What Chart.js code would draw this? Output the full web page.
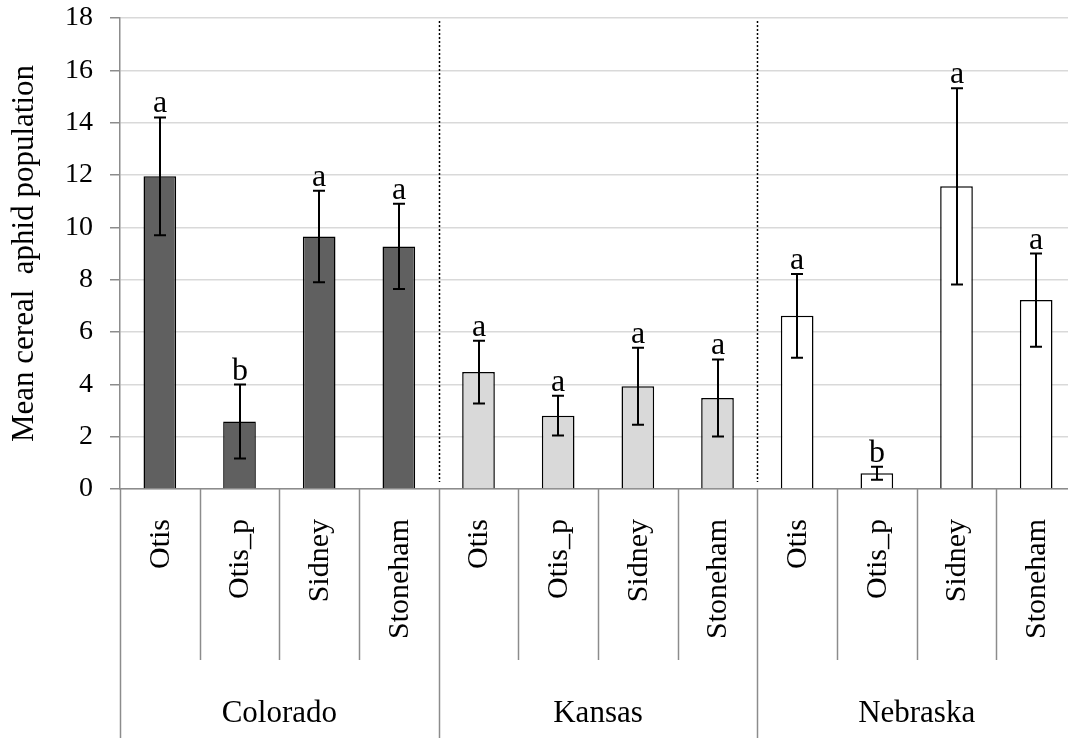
<!DOCTYPE html>
<html>
<head>
<meta charset="utf-8">
<script src="https://cdn.jsdelivr.net/npm/chart.js@4/dist/chart.umd.min.js"></script>
<style>
  html, body { margin: 0; padding: 0; background: #fff; overflow: hidden; }
  #wrap { width: 1080px; height: 738px; position: relative; }
</style>
</head>
<body>
<div id="wrap"><canvas id="grafico"></canvas></div>
<script>
// datos
var groups = ['Colorado', 'Kansas', 'Nebraska'];
var sites = ['Otis', 'Otis_p', 'Sidney', 'Stoneham'];

var coloradoMeans = [11.95, 2.58, 9.65, 9.27];
var coloradoErr = [2.25, 1.41, 1.75, 1.63];
var kansasMeans = [4.47, 2.80, 3.93, 3.48];
var kansasErr = [1.2, 0.76, 1.47, 1.47];
var nebraskaMeans = [6.62, 0.60, 11.57, 7.22];
var nebraskaErr = [1.6, 0.25, 3.75, 1.78];

var coloradoLetters = ['a', 'b', 'a', 'a'];
var kansasLetters = ['a', 'a', 'a', 'a'];
var nebraskaLetters = ['a', 'b', 'a', 'a'];

var yTicks = [0, 2, 4, 6, 8, 10, 12, 14, 16, 18];

var groupColors = ['#606060', '#d9d9d9', '#ffffff'];

var labels = [];
var means = [];
var errs = [];
var letters = [];
var colors = [];
var allMeans = [coloradoMeans, kansasMeans, nebraskaMeans];
var allErr = [coloradoErr, kansasErr, nebraskaErr];
var allLetters = [coloradoLetters, kansasLetters, nebraskaLetters];
for (var g = 0; g < groups.length; g++) {
  for (var s = 0; s < sites.length; s++) {
    labels.push(sites[s]);
    means.push(allMeans[g][s]);
    errs.push(allErr[g][s]);
    letters.push(allLetters[g][s]);
    colors.push(groupColors[g]);
  }
}

var serif = "'Liberation Serif', 'Times New Roman', serif";
var axisGray = '#8c8c8c';

var extrasPlugin = {
  id: 'extras',
  afterDatasetsDraw: function(chart) {
    var ctx = chart.ctx;
    var x = chart.scales.x;
    var y = chart.scales.y;
    var area = chart.chartArea;
    var step = x.getPixelForValue(1) - x.getPixelForValue(0);
    ctx.save();

    // separadores punteados entre estados
    ctx.strokeStyle = '#000';
    ctx.lineWidth = 1.5;
    ctx.setLineDash([2, 2]);
    for (var g = 1; g < groups.length; g++) {
      var sx = Math.round(x.getPixelForValue(g * sites.length) - step / 2) + 0.5;
      ctx.beginPath();
      ctx.moveTo(sx, area.top + 3);
      ctx.lineTo(sx, area.bottom - 7);
      ctx.stroke();
    }
    ctx.setLineDash([]);

    // barras de error y letras
    ctx.lineWidth = 2;
    ctx.font = '32px ' + serif;
    ctx.textAlign = 'center';
    ctx.textBaseline = 'alphabetic';
    ctx.fillStyle = '#000';
    for (var i = 0; i < means.length; i++) {
      var cx = Math.round(x.getPixelForValue(i));
      var top = y.getPixelForValue(means[i] + errs[i]);
      var bot = y.getPixelForValue(means[i] - errs[i]);
      ctx.beginPath();
      ctx.moveTo(cx, top);
      ctx.lineTo(cx, bot);
      ctx.moveTo(cx - 6, top);
      ctx.lineTo(cx + 6, top);
      ctx.moveTo(cx - 6, bot);
      ctx.lineTo(cx + 6, bot);
      ctx.stroke();
      ctx.fillText(letters[i], cx, top - 5);
    }

    // eje de categorias en dos niveles
    var base = area.bottom;
    ctx.strokeStyle = axisGray;
    ctx.lineWidth = 1.5;
    for (var k = 0; k <= labels.length; k++) {
      var lx = Math.round(x.getPixelForValue(k) - step / 2) + 0.5;
      var end = (k % sites.length === 0) ? chart.height : base + 171;
      ctx.beginPath();
      ctx.moveTo(lx, base);
      ctx.lineTo(lx, end);
      ctx.stroke();
    }

    ctx.fillStyle = '#000';
    ctx.font = '30px ' + serif;
    ctx.textAlign = 'right';
    ctx.textBaseline = 'middle';
    for (var j = 0; j < labels.length; j++) {
      ctx.save();
      ctx.translate(x.getPixelForValue(j) + 1, base + 30);
      ctx.rotate(-Math.PI / 2);
      ctx.fillText(labels[j], 0, 0);
      ctx.restore();
    }

    ctx.font = '31px ' + serif;
    ctx.textAlign = 'center';
    ctx.textBaseline = 'alphabetic';
    for (var h = 0; h < groups.length; h++) {
      var first = x.getPixelForValue(h * sites.length) - step / 2;
      var last = x.getPixelForValue((h + 1) * sites.length - 1) + step / 2;
      ctx.fillText(groups[h], (first + last) / 2, base + 233);
    }
    ctx.restore();
  }
};

new Chart(document.getElementById('grafico'), {
  type: 'bar',
  data: {
    labels: labels,
    datasets: [{
      label: 'Mean',
      data: means,
      backgroundColor: colors,
      borderColor: '#000',
      borderWidth: 1.5,
      barPercentage: 0.41,
      categoryPercentage: 1
    }]
  },
  options: {
    responsive: true,
    maintainAspectRatio: false,
    animation: false,
    layout: {
      padding: { top: 18, right: 4, bottom: 249, left: 0 }
    },
    plugins: {
      legend: { display: false },
      tooltip: { enabled: false }
    },
    scales: {
      x: {
        offset: true,
        grid: { display: false, drawTicks: false },
        border: { display: true, color: axisGray, width: 1.5 },
        ticks: { display: false }
      },
      y: {
        min: 0,
        max: 18,
        afterFit: function(scale) {
          scale.width = 120;
          scale.paddingTop = 0;
          scale.paddingBottom = 0;
        },
        afterBuildTicks: function(scale) {
          scale.ticks = yTicks.map(function(v) { return { value: v }; });
        },
        grid: {
          color: '#d9d9d9',
          lineWidth: 1.5,
          tickColor: axisGray,
          tickLength: 10
        },
        border: { display: true, color: axisGray, width: 1.5 },
        ticks: {
          color: '#000',
          padding: 17,
          font: { family: serif, size: 28 }
        },
        title: {
          display: true,
          text: 'Mean cereal  aphid population',
          color: '#000',
          padding: { top: 6, bottom: 0 },
          font: { family: serif, size: 31 }
        }
      }
    }
  },
  plugins: [extrasPlugin]
});
</script>
</body>
</html>
